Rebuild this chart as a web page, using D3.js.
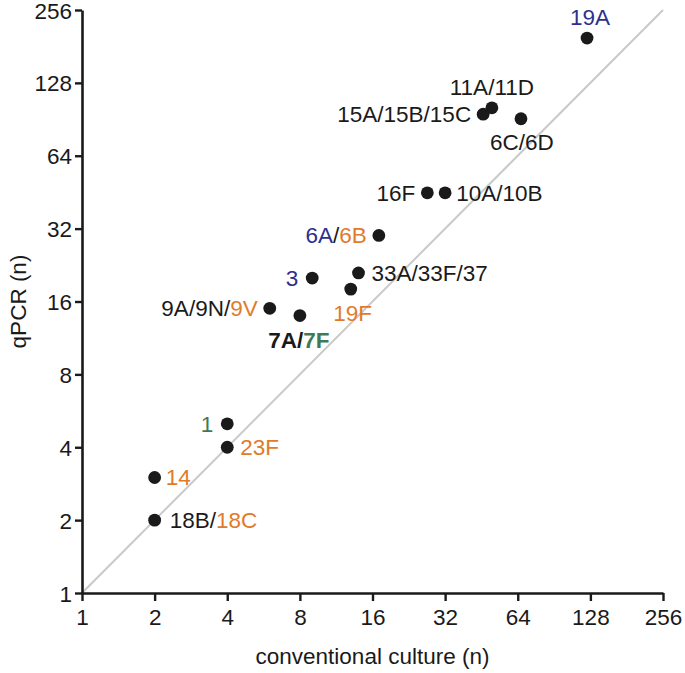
<!DOCTYPE html>
<html>
<head>
<meta charset="utf-8">
<script src="https://cdn.jsdelivr.net/npm/d3@7"></script>
<style>
  html, body { margin: 0; padding: 0; background: #fff; }
  svg { display: block; font-family: "Liberation Sans", Arial, sans-serif; }
</style>
</head>
<body>
<svg id="chart" width="685" height="673"></svg>
<script>
// ---- data ----
const serotypes = ["19A","11A/11D","15A/15B/15C","6C/6D","16F","10A/10B","6A/6B","3",
                   "33A/33F/37","19F","9A/9N/9V","7A/7F","1","23F","14","18B/18C"];
const culture   = [124, 50, 46, 66, 27, 32, 17, 9, 14, 13, 6, 8, 4, 4, 2, 2];
const qpcr      = [196, 101, 95, 91, 45, 45, 30, 20, 21, 18, 15, 14, 5, 4, 3, 2];
const tickValues = [1, 2, 4, 8, 16, 32, 64, 128, 256];
// vaccine groups (label colouring)
const pcv7  = ["6B","9V","14","18C","19F","23F"];
const pcv10 = ["1","7F"];
const pcv13 = ["3","6A","19A"];
const boldLabels = ["7A/7F"];

// ---- layout / style (not data) ----
const labelPlacement = {
  "19A":         {anchor:"middle", dx:3,   dy:-13},
  "11A/11D":     {anchor:"middle", dx:0,   dy:-13},
  "15A/15B/15C": {anchor:"end",    dx:-12, dy:8},
  "6C/6D":       {anchor:"middle", dx:1,   dy:31},
  "16F":         {anchor:"end",    dx:-12, dy:8},
  "10A/10B":     {anchor:"start",  dx:11,  dy:8},
  "6A/6B":       {anchor:"end",    dx:-12, dy:8},
  "3":           {anchor:"end",    dx:-14, dy:8},
  "33A/33F/37":  {anchor:"start",  dx:13,  dy:8},
  "19F":         {anchor:"middle", dx:2,   dy:32},
  "9A/9N/9V":    {anchor:"end",    dx:-12, dy:8},
  "7A/7F":       {anchor:"middle", dx:-1,  dy:32},
  "1":           {anchor:"end",    dx:-14, dy:8},
  "23F":         {anchor:"start",  dx:13,  dy:8},
  "14":          {anchor:"start",  dx:11,  dy:8},
  "18B/18C":     {anchor:"start",  dx:15,  dy:8}
};
const COL = { black:"#1a1a1a", orange:"#e07b2c", green:"#3f7a55", blue:"#2d2f8e" };
function colourOf(s){
  if (pcv7.includes(s)) return COL.orange;
  if (pcv10.includes(s)) return COL.green;
  if (pcv13.includes(s)) return COL.blue;
  return COL.black;
}

const svg = d3.select("#chart");
const x = d3.scaleLog().base(2).domain([1,256]).range([82,663]);
const y = d3.scaleLog().base(2).domain([1,256]).range([593,10]);
const FS = 22.5;

// identity line
svg.append("line")
  .attr("x1", x(1)).attr("y1", y(1))
  .attr("x2", x(256)).attr("y2", y(256))
  .attr("stroke", "#c9c9c9").attr("stroke-width", 2);

// axes
const xAxis = svg.append("g").attr("transform", `translate(0,${y(1)})`)
  .call(d3.axisBottom(x).tickValues(tickValues).tickFormat(d3.format("d"))
        .tickSize(8).tickSizeOuter(0).tickPadding(8));
const yAxis = svg.append("g").attr("transform", `translate(${x(1)},0)`)
  .call(d3.axisLeft(y).tickValues(tickValues).tickFormat(d3.format("d"))
        .tickSize(7).tickSizeOuter(0).tickPadding(3));
[xAxis, yAxis].forEach(g => {
  g.select(".domain").attr("stroke", "#1a1a1a").attr("stroke-width", 2.6);
  g.selectAll(".tick line").attr("stroke", "#1a1a1a").attr("stroke-width", 2.4);
  g.selectAll(".tick text").attr("fill", "#1a1a1a")
    .style("font-size", FS + "px").style("font-family", '"Liberation Sans", Arial, sans-serif');
});
yAxis.selectAll(".tick text").attr("dy", "0.36em");

// axis titles
svg.append("text").attr("x", (x(1)+x(256))/2).attr("y", 664)
  .attr("text-anchor", "middle").attr("fill", "#1a1a1a")
  .style("font-size", FS + "px").text("conventional culture (n)");
svg.append("text")
  .attr("transform", `translate(26,${(y(1)+y(256))/2}) rotate(-90)`)
  .attr("text-anchor", "middle").attr("fill", "#1a1a1a")
  .style("font-size", FS + "px").text("qPCR (n)");

// points
const pts = serotypes.map((s,i) => ({name:s, cx:x(culture[i]), cy:y(qpcr[i])}));
svg.append("g").selectAll("circle").data(pts).join("circle")
  .attr("cx", d => d.cx).attr("cy", d => d.cy).attr("r", 6.4)
  .attr("fill", "#1a1a1a");

// labels
const lab = svg.append("g").selectAll("text").data(pts).join("text")
  .attr("x", d => d.cx + labelPlacement[d.name].dx)
  .attr("y", d => d.cy + labelPlacement[d.name].dy)
  .attr("text-anchor", d => labelPlacement[d.name].anchor)
  .style("font-size", FS + "px")
  .style("font-weight", d => boldLabels.includes(d.name) ? "bold" : "normal");
lab.each(function(d){
  const parts = d.name.split("/");
  const t = d3.select(this);
  parts.forEach((p, k) => {
    t.append("tspan").attr("fill", colourOf(p)).text(p);
    if (k < parts.length - 1) t.append("tspan").attr("fill", COL.black).text("/");
  });
});
</script>
</body>
</html>
